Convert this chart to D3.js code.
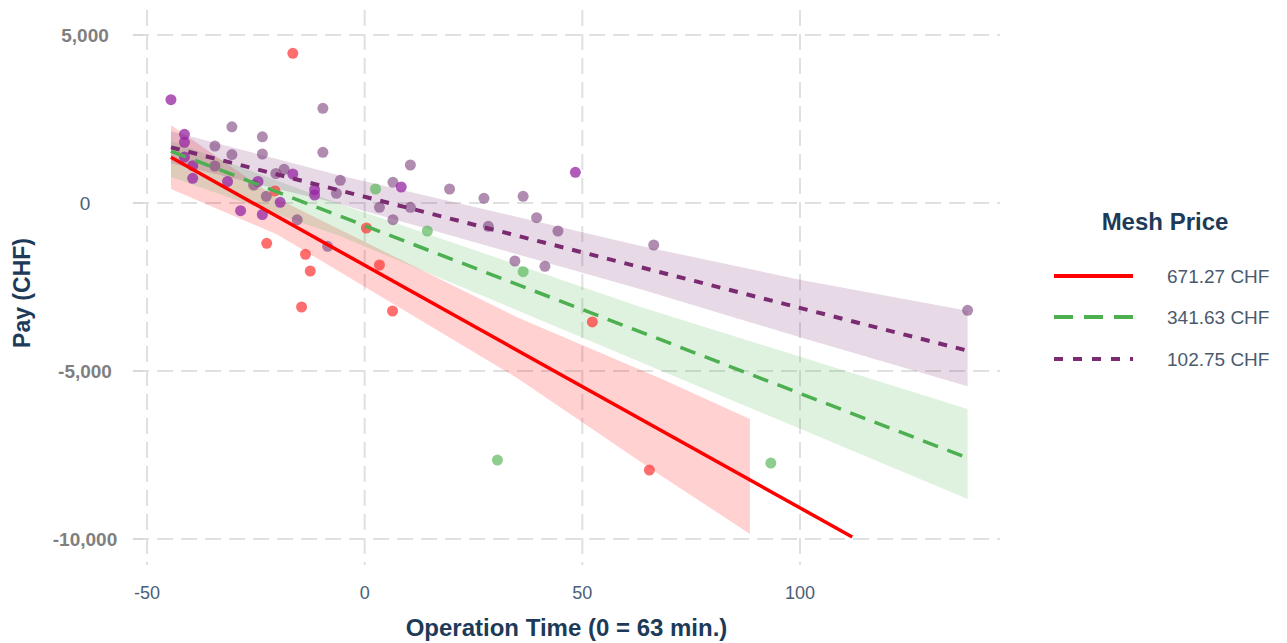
<!DOCTYPE html>
<meta charset="utf-8">
<script src="https://d3js.org/d3.v7.min.js"></script>
<style>
body { margin: 0; background: #fff; font-family: "Liberation Sans", Arial, sans-serif; }
</style>
<div id="chart"></div>
<script>
// ---- data ----
var xTicks = [-50, 0, 50, 100];
var yTicks = [5000, 0, -5000, -10000];

var redX = [-16.5, -20.6, 0.4, -22.5, -13.6, -12.5, 3.4, -14.5, 6.4, 52.3, 65.4];
var redY = [4455, 357, -744, -1199, -1527, -2024, -1845, -3095, -3214, -3541, -7950];

var greenX = [2.5, 14.4, 36.4, 30.5, 93.3];
var greenY = [417, -833, -2045, -7650, -7740];

var purpleBrightX = [-44.5, -41.4, -41.4, -41.4, -39.5, -39.5, -16.5, -31.5, -24.5, -11.5, -11.5, 8.4, -19.4, -28.5, -23.5, 48.4];
var purpleBrightY = [3074, 2045, 1806, 1369, 1110, 735, 863, 640, 640, 396, 238, 476, 21, -229, -342, 914];

var purpleMutedX = [-9.6, -30.5, -23.5, -34.4, -30.5, -23.5, -9.6, 10.5, -34.4, -18.5, -20.4, -25.5, -5.6, -6.5, 6.5, 19.5,
  -22.6, 3.4, 10.5, 6.5, -15.5, -8.5, 27.4, 36.4, 39.5, 44.4, 28.4, 66.4, 34.5, 41.4, 138.5];
var purpleMutedY = [2818, 2268, 1970, 1696, 1443, 1458, 1509, 1131, 1101, 1003, 878, 536, 676, 289, 616, 417,
  199, -128, -128, -497, -500, -1289, 140, 199, -437, -833, -693, -1250, -1726, -1884, -3193];

// fitted lines (end points) and confidence bands
var redLineX = [-44.5, 112], redLineY = [1360, -9940];
var greenLineX = [-44.5, 138.5], greenLineY = [1547, -7589];
var purpleLineX = [-44.5, 138.5], purpleLineY = [1657, -4396];

var redBandX = [-44.5, -20, 35, 68, 88.5];
var redBandHi = [2321, 128, -3400, -5220, -6428];
var redBandLo = [417, -943, -5208, -8107, -9850];

var greenBandX = [-44.5, -5.7, 63.2, 138.5];
var greenBandHi = [1845, -30, -3086, -6131];
var greenBandLo = [774, -982, -4723, -8809];

var purpleBandX = [-44.5, -5.7, 63.2, 100, 138.5];
var purpleBandHi = [2134, 818, -1270, -2283, -3205];
var purpleBandLo = [1181, -30, -2559, -3997, -5455];

var legendLabels = ["671.27 CHF", "341.63 CHF", "102.75 CHF"];

// ---- drawing ----
var width = 1287, height = 643;
var panel = {left: 133, right: 1000, top: 10, bottom: 565};

var svg = d3.select("#chart").append("svg")
  .attr("width", width)
  .attr("height", height);

var x = d3.scaleLinear().domain([-50, 100]).range([147, 800]);
var y = d3.scaleLinear().domain([-10000, 5000]).range([539, 35]);

var gridColor = "#e0e0e0";

// grid lines
svg.append("g").selectAll("line")
  .data(yTicks)
  .enter().append("line")
  .attr("x1", panel.left).attr("x2", panel.right)
  .attr("y1", function(d) { return y(d); })
  .attr("y2", function(d) { return y(d); })
  .attr("stroke", gridColor)
  .attr("stroke-width", 2)
  .attr("stroke-dasharray", "16,8");

svg.append("g").selectAll("line")
  .data(xTicks)
  .enter().append("line")
  .attr("y1", panel.top).attr("y2", panel.bottom)
  .attr("x1", function(d) { return x(d); })
  .attr("x2", function(d) { return x(d); })
  .attr("stroke", gridColor)
  .attr("stroke-width", 2)
  .attr("stroke-dasharray", "16,8");

// confidence bands
function band(xs, hi, lo, fill) {
  var pts = xs.map(function(d, i) { return {x: d, hi: hi[i], lo: lo[i]}; });
  svg.append("path")
    .datum(pts)
    .attr("fill", fill)
    .attr("d", d3.area()
      .x(function(d) { return x(d.x); })
      .y0(function(d) { return y(d.lo); })
      .y1(function(d) { return y(d.hi); }));
}
band(redBandX, redBandHi, redBandLo, "rgba(255,0,0,0.18)");
band(greenBandX, greenBandHi, greenBandLo, "rgba(76,175,80,0.18)");
band(purpleBandX, purpleBandHi, purpleBandLo, "rgba(123,45,114,0.18)");

// points
function points(xs, ys, fill, op) {
  svg.append("g").selectAll("circle")
    .data(xs)
    .enter().append("circle")
    .attr("cx", function(d) { return x(d); })
    .attr("cy", function(d, i) { return y(ys[i]); })
    .attr("r", 5.5)
    .attr("fill", fill)
    .attr("opacity", op);
}
points(purpleMutedX, purpleMutedY, "#7b3f7b", 0.6);
points(purpleBrightX, purpleBrightY, "#9524a3", 0.75);
points(redX, redY, "#ff3030", 0.7);
points(greenX, greenY, "#5cb85c", 0.7);

// fitted lines
function fit(xs, ys, color, dash, w) {
  svg.append("path")
    .datum(xs.map(function(d, i) { return [d, ys[i]]; }))
    .attr("fill", "none")
    .attr("stroke", color)
    .attr("stroke-width", w)
    .attr("stroke-dasharray", dash)
    .attr("d", d3.line()
      .x(function(d) { return x(d[0]); })
      .y(function(d) { return y(d[1]); }));
}
fit(purpleLineX, purpleLineY, "#7a2b72", "9,9", 4);
fit(greenLineX, greenLineY, "#4caf50", "16,10", 3.5);
fit(redLineX, redLineY, "#ff0000", null, 3.5);

// y axis labels (plain hyphen for the minus sign)
var fmt = d3.format(",");
svg.append("g").selectAll("text")
  .data(yTicks)
  .enter().append("text")
  .attr("x", 85)
  .attr("y", function(d) { return y(d); })
  .attr("text-anchor", "middle")
  .attr("dy", "0.35em")
  .attr("font-size", 19)
  .attr("font-weight", function(d) { return d === 0 ? "normal" : "bold"; })
  .attr("fill", function(d) { return d === 0 ? "#4a6078" : "#7f7f7f"; })
  .text(function(d) { return fmt(d).replace("\u2212", "-"); });

// small tick stubs left of panel
svg.append("g").selectAll("line")
  .data(yTicks)
  .enter().append("line")
  .attr("x1", panel.left).attr("x2", panel.left + 10)
  .attr("y1", function(d) { return y(d); })
  .attr("y2", function(d) { return y(d); })
  .attr("stroke", "#d8d8d8")
  .attr("stroke-width", 2);

// x axis labels
svg.append("g").selectAll("text")
  .data(xTicks)
  .enter().append("text")
  .attr("x", function(d) { return x(d); })
  .attr("y", 593)
  .attr("dy", "0.35em")
  .attr("text-anchor", "middle")
  .attr("font-size", 18)
  .attr("fill", "#4a6078")
  .text(function(d) { return d; });

// axis titles
svg.append("text")
  .attr("x", (panel.left + panel.right) / 2)
  .attr("y", 628)
  .attr("dy", "0.35em")
  .attr("text-anchor", "middle")
  .attr("font-size", 24)
  .attr("font-weight", "bold")
  .attr("fill", "#1d3b58")
  .text("Operation Time (0 = 63 min.)");

svg.append("text")
  .attr("transform", "translate(22,293) rotate(-90)")
  .attr("dy", "0.35em")
  .attr("text-anchor", "middle")
  .attr("font-size", 23)
  .attr("font-weight", "bold")
  .attr("fill", "#1d3b58")
  .text("Pay (CHF)");

// legend
svg.append("text")
  .attr("x", 1165)
  .attr("y", 222)
  .attr("dy", "0.35em")
  .attr("text-anchor", "middle")
  .attr("font-size", 24)
  .attr("font-weight", "bold")
  .attr("fill", "#1d3b58")
  .text("Mesh Price");

var legColors = ["#ff0000", "#4caf50", "#7a2b72"];
var legDash = [null, "19,11", "9,10"];
var legY = [276, 317, 359];
legendLabels.forEach(function(lab, i) {
  svg.append("line")
    .attr("x1", 1054).attr("x2", 1133)
    .attr("y1", legY[i]).attr("y2", legY[i])
    .attr("stroke", legColors[i])
    .attr("stroke-width", 4)
    .attr("stroke-dasharray", legDash[i]);
  svg.append("text")
    .attr("x", 1167)
    .attr("y", legY[i])
    .attr("dy", "0.35em")
    .attr("font-size", 19)
    .attr("fill", "#4a5a6e")
    .text(lab);
});
</script>
